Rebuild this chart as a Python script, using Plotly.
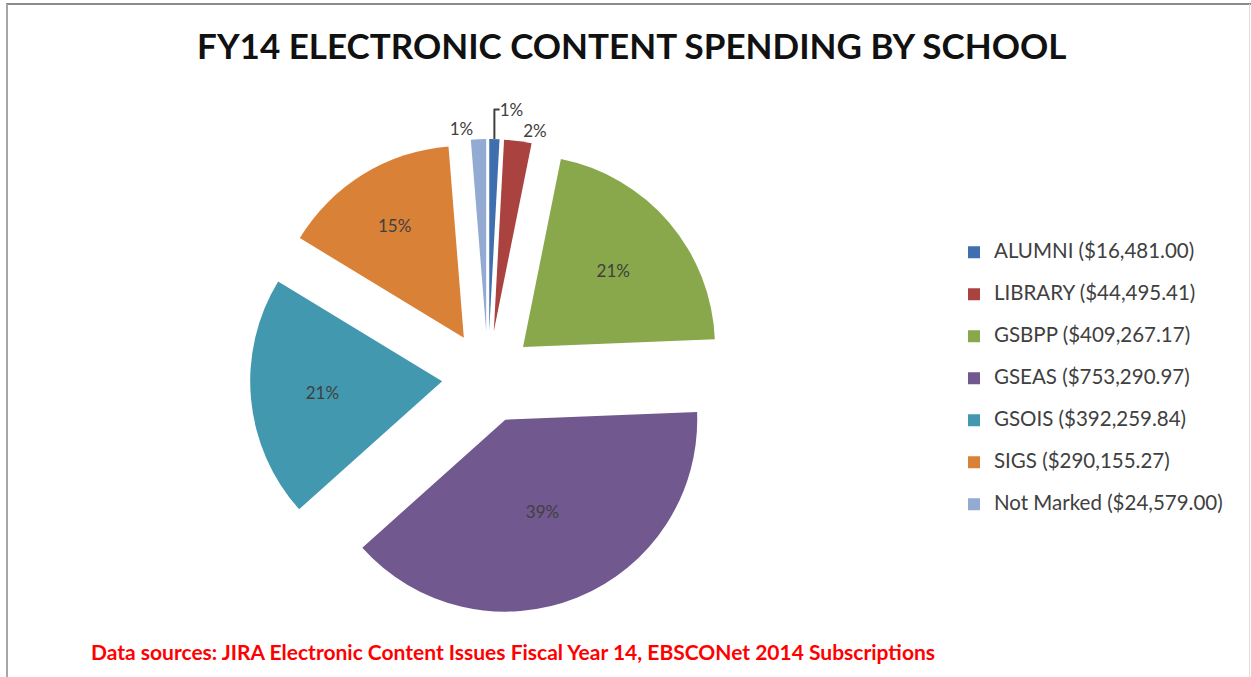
import plotly.graph_objects as go

# FY14 electronic content spending, by school
schools = ["ALUMNI", "LIBRARY", "GSBPP", "GSEAS", "GSOIS", "SIGS", "Not Marked"]
spending = [16481.00, 44495.41, 409267.17, 753290.97, 392259.84, 290155.27, 24579.00]
pct_labels = ["1%", "2%", "21%", "39%", "21%", "15%", "1%"]
colors = ["#3F6FAE", "#AA4340", "#89A74B", "#71588F", "#4298AF", "#DA8138", "#93AAD2"]
text_pos = ["outside", "outside", "inside", "inside", "inside", "inside", "outside"]

W, H = 1251, 677

# legend entries: name plus amount; the empty second line sets the row spacing
legend_labels = [
    f'<span style="font-size:20.5px">{s} (${v:,.2f})</span><br> '
    for s, v in zip(schools, spending)
]

fig = go.Figure(
    go.Pie(
        labels=legend_labels,
        values=spending,
        text=pct_labels,
        textinfo="text",
        textposition=text_pos,
        insidetextorientation="horizontal",
        sort=False,
        direction="clockwise",
        rotation=0,
        pull=0.24,
        marker=dict(colors=colors, line=dict(width=0)),
        textfont=dict(family="Lato", size=17, color="#404040"),
        hoverinfo="none",
        domain=dict(x=[250 / W, 726 / W], y=[1 - 615 / H, 1 - 139 / H]),
    )
)

border = "#8C8C8C"
fig.update_layout(
    width=W,
    height=H,
    autosize=False,
    margin=dict(l=0, r=0, t=0, b=0, pad=0, autoexpand=False),
    paper_bgcolor="white",
    plot_bgcolor="white",
    font=dict(family="Lato", color="#404040"),
    title=dict(
        text="<b>FY14 ELECTRONIC CONTENT SPENDING BY SCHOOL</b>",
        x=0.505,
        xanchor="center",
        y=1 - 47 / H,
        yanchor="middle",
        font=dict(family="Lato", size=35, color="#111111"),
    ),
    legend=dict(
        x=954 / W,
        xanchor="left",
        y=1 - 236 / H,
        yanchor="top",
        valign="top",
        itemwidth=30,
        font=dict(family="Lato", size=15, color="#404040"),
        bgcolor="rgba(0,0,0,0)",
    ),
    annotations=[
        dict(
            text="<b>Data sources: JIRA Electronic Content Issues Fiscal Year 14, EBSCONet 2014 Subscriptions</b>",
            x=89 / W,
            xanchor="left",
            y=1 - 651 / H,
            yanchor="middle",
            xref="paper",
            yref="paper",
            showarrow=False,
            font=dict(family="Lato", size=21, color="#FF0000"),
        )
    ],
    shapes=[
        dict(type="line", xref="paper", yref="paper", x0=6 / W, x1=1, y0=1 - 4 / H, y1=1 - 4 / H,
             line=dict(color=border, width=2)),
        dict(type="line", xref="paper", yref="paper", x0=7 / W, x1=7 / W, y0=0, y1=1 - 4 / H,
             line=dict(color="#A6A6A6", width=2)),
        dict(type="line", xref="paper", yref="paper", x0=1249.5 / W, x1=1249.5 / W, y0=0, y1=1 - 4 / H,
             line=dict(color="#DDDDDD", width=1)),
    ],
)

fig.write_html("out.html")
